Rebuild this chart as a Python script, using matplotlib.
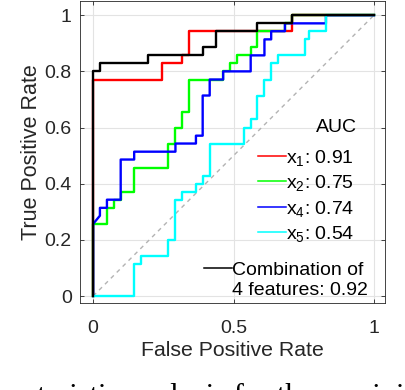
import matplotlib
matplotlib.use('Agg')
import matplotlib.pyplot as plt
import numpy as np
from matplotlib.lines import Line2D
from matplotlib.legend_handler import HandlerLine2D

# ROC curve vertices (false positive rate, true positive rate)
fpr_x1 = [0, 0, 0.244, 0.244, 0.317, 0.317, 0.341, 0.341, 0.707, 0.707, 1]
tpr_x1 = [0, 0.771, 0.771, 0.829, 0.829, 0.857, 0.857, 0.943, 0.943, 1, 1]

fpr_x2 = [0, 0, 0.049, 0.049, 0.073, 0.073, 0.098, 0.098, 0.146, 0.146, 0.268, 0.268,
          0.293, 0.293, 0.317, 0.317, 0.341, 0.341, 0.463, 0.463, 0.488, 0.488, 0.512,
          0.512, 0.561, 0.561, 0.585, 0.585, 0.683, 0.683, 0.707, 0.707, 1]
tpr_x2 = [0, 0.257, 0.257, 0.314, 0.314, 0.343, 0.343, 0.371, 0.371, 0.457, 0.457, 0.543,
          0.543, 0.6, 0.6, 0.657, 0.657, 0.771, 0.771, 0.8, 0.8, 0.829, 0.829,
          0.857, 0.857, 0.886, 0.886, 0.943, 0.943, 0.971, 0.971, 1, 1]

fpr_x4 = [0, 0, 0.024, 0.024, 0.049, 0.049, 0.098, 0.098, 0.146, 0.146, 0.293, 0.293,
          0.366, 0.366, 0.39, 0.39, 0.415, 0.415, 0.463, 0.463, 0.561, 0.561, 0.61,
          0.61, 0.634, 0.634, 0.683, 0.683, 0.829, 0.829, 1]
tpr_x4 = [0, 0.257, 0.286, 0.314, 0.314, 0.343, 0.343, 0.486, 0.486, 0.514, 0.514, 0.543,
          0.543, 0.571, 0.571, 0.714, 0.714, 0.771, 0.771, 0.8, 0.8, 0.857, 0.857,
          0.914, 0.914, 0.943, 0.943, 0.971, 0.971, 1, 1]

fpr_x5 = [0, 0.146, 0.146, 0.171, 0.171, 0.268, 0.268, 0.293, 0.293, 0.317, 0.317, 0.366,
          0.366, 0.39, 0.39, 0.415, 0.415, 0.537, 0.537, 0.561, 0.561, 0.585, 0.585,
          0.61, 0.61, 0.634, 0.634, 0.659, 0.659, 0.756, 0.756, 0.768, 0.768, 0.829,
          0.829, 1]
tpr_x5 = [0, 0, 0.114, 0.114, 0.143, 0.143, 0.2, 0.2, 0.343, 0.343, 0.371, 0.371,
          0.4, 0.4, 0.429, 0.429, 0.543, 0.543, 0.6, 0.6, 0.629, 0.629, 0.714,
          0.714, 0.771, 0.771, 0.829, 0.829, 0.857, 0.857, 0.914, 0.914, 0.943, 0.943,
          1, 1]

fpr_comb = [0, 0, 0.024, 0.024, 0.195, 0.195, 0.39, 0.39, 0.439, 0.439, 0.585, 0.585,
            0.707, 0.707, 1]
tpr_comb = [0, 0.8, 0.8, 0.829, 0.829, 0.857, 0.857, 0.886, 0.886, 0.943, 0.943, 0.971,
            0.971, 1, 1]

auc_x1, auc_x2, auc_x4, auc_x5, auc_comb = 0.91, 0.75, 0.74, 0.54, 0.92

plt.rcParams['font.family'] = ['Liberation Sans', 'DejaVu Sans']
plt.rcParams['mathtext.fontset'] = 'custom'
plt.rcParams['mathtext.rm'] = 'Liberation Sans'
plt.rcParams['mathtext.it'] = 'Liberation Sans'
txt_col = '#262626'


# legend key drawn at the level of the first text line (multi-line label)
class TopLine(HandlerLine2D):
    def __init__(self, shift, **kw):
        super().__init__(**kw)
        self.shift = shift

    def create_artists(self, legend, orig_handle, xdescent, ydescent, width, height,
                       fontsize, trans):
        arts = super().create_artists(legend, orig_handle, xdescent, ydescent, width,
                                      height, fontsize, trans)
        for a in arts:
            a.set_ydata(np.asarray(a.get_ydata()) + self.shift * fontsize)
        return arts


fig = plt.figure(figsize=(4.06, 3.9), dpi=100)
ax = fig.add_axes([0.197, 0.223, 0.751, 0.774])

ax.plot([0, 1], [0, 1], color='#b3b3b3', linestyle=(0, (3, 3)), linewidth=1)
ax.plot(fpr_x1, tpr_x1, color='#ff0000', linewidth=1.7)
ax.plot(fpr_x2, tpr_x2, color='#00ff00', linewidth=1.7)
ax.plot(fpr_x4, tpr_x4, color='#0000ff', linewidth=1.7)
ax.plot(fpr_x5, tpr_x5, color='#00ffff', linewidth=1.7)
ax.plot(fpr_comb, tpr_comb, color='#000000', linewidth=1.7)

ax.set_xlim(-0.047, 1.039)
ax.set_ylim(-0.025, 1.05)
ax.set_xticks([0, 0.5, 1])
ax.set_xticklabels(['0', '0.5', '1'])
ax.set_yticks([0, 0.2, 0.4, 0.6, 0.8, 1])
ax.set_yticklabels(['0', '0.2', '0.4', '0.6', '0.8', '1'])
ax.grid(True, color='#e3e3e3', linewidth=0.8)
ax.set_axisbelow(True)
ax.tick_params(direction='in', length=3, width=0.6, colors=txt_col, labelsize=14,
               top=True, right=True)
ax.tick_params(axis='x', pad=12)
ax.tick_params(axis='y', pad=6)
for s in ax.spines.values():
    s.set_color(txt_col)
    s.set_linewidth(0.6)

ax.set_xlabel('False Positive Rate', fontsize=15.3, color=txt_col, labelpad=3)
ax.set_ylabel('True Positive Rate', fontsize=15.5, color=txt_col, labelpad=1.5)

keys = [Line2D([], [], color=c, linewidth=1.1)
        for c in ['#ff0000', '#00ff00', '#0000ff', '#00ffff']]
labels = [r'x$_1$: %.2f' % auc_x1, r'x$_2$: %.2f' % auc_x2,
          r'x$_4$: %.2f' % auc_x4, r'x$_5$: %.2f' % auc_x5]
leg1 = ax.legend(keys, labels, frameon=False, fontsize=14, loc='lower right',
                 bbox_to_anchor=(0.901, 0.195), handlelength=1.45,
                 handletextpad=0.0, labelspacing=0.28, borderaxespad=0.0,
                 borderpad=0.0)
ax.add_artist(leg1)
ax.text(0.908, 0.581, 'AUC', transform=ax.transAxes, fontsize=14, color='black',
        ha='right', va='center')

comb_key = Line2D([], [], color='black', linewidth=1.1)
ax.legend([comb_key], ['Combination of\n4 features: %.2f' % auc_comb], frameon=False,
          fontsize=14, loc='lower right', bbox_to_anchor=(0.945, 0.015),
          handlelength=1.45, handletextpad=0.0, borderaxespad=0.0, borderpad=0.0,
          handler_map={comb_key: TopLine(0.6)})

fig.text(0.0, 1 - 383 / 390, 'racteristic analysis for the receivi', fontsize=22,
         family=['Liberation Serif', 'DejaVu Serif'], va='top', ha='left')

fig.savefig('out.png', dpi=100)
